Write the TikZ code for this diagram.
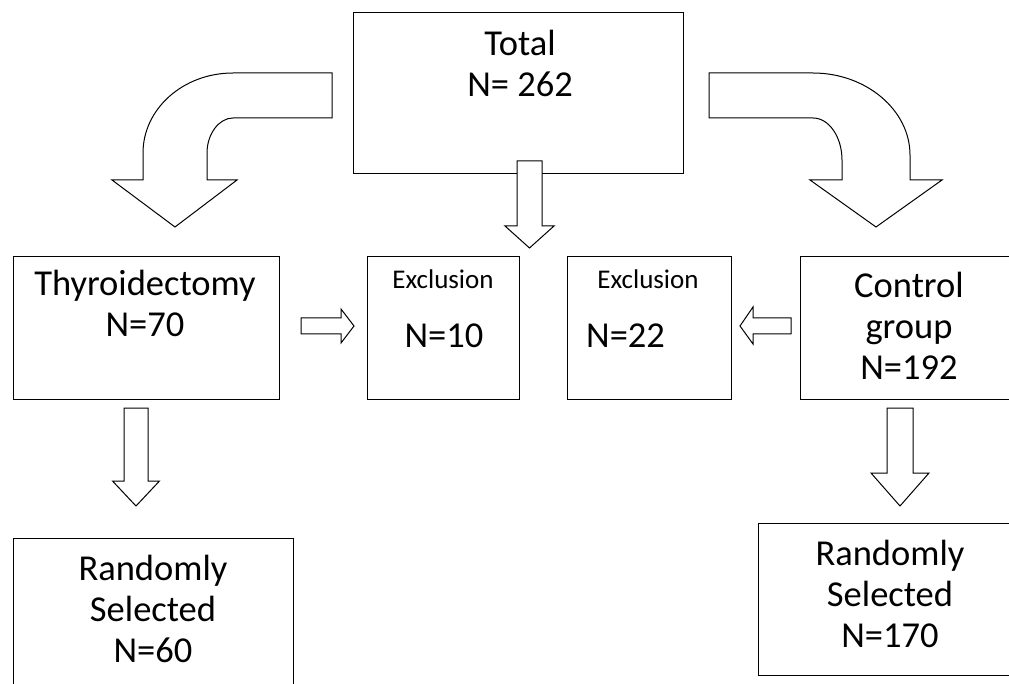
\documentclass[tikz,border=0pt]{standalone}
\usepackage{fontspec}
\setmainfont{Carlito}
\usepackage{tikz}
\usetikzlibrary{positioning}
\tikzset{
    %Define style for boxes
    kasse/.style={
           rectangle,
           draw=black, line width=1pt,
           inner sep=0pt},
    %Define style for texts
    tekst/.style={
           align=center,
           inner sep=0pt,
           font=\fontsize{36.5}{41}\selectfont},
    tekstlille/.style={
           inner sep=0pt,
           font=\fontsize{27}{30}\selectfont},
    % Define block arrow style
    blok/.style={
           draw=black, line width=1pt, fill=white,
           line join=miter}
}
% straight block arrow pointing down: x, top, shaft end, tip, half shaft, half head
\newcommand{\blokned}[6]{%
  \draw[blok] (#1-#5,#2) -- (#1+#5,#2) -- (#1+#5,#3) -- (#1+#6,#3) -- (#1,#4)
     -- (#1-#6,#3) -- (#1-#5,#3) -- cycle;}
\begin{document}
\begin{tikzpicture}[x=1pt,y=-1pt]
\useasboundingbox (0,0) rectangle (1009,684);
\clip (0,0) rectangle (1009,684);
 %boxes
\node[kasse, minimum width=330, minimum height=161](total) at (518,93.5){};
\node[kasse, minimum width=266, minimum height=142](thyr) at (146,328){};
\node[kasse, minimum width=152, minimum height=142](excl1) at (443,328){};
\node[kasse, minimum width=164, minimum height=142](excl2) at (649,328){};
\node[kasse, minimum width=230, minimum height=142](ctrl) at (915,328){};
\node[kasse, minimum width=280, minimum height=162](randL) at (153,619){};
\node[kasse, minimum width=272, minimum height=152](randR) at (894,599){};

 %texts (base = last line)
\node[tekst, anchor=base](totaltxt) at (520,97){Total\\N= 262};
\node[tekst, anchor=base](thyrtxt) at (145,337){Thyroidectomy\\N=70};
\node[tekstlille, anchor=base](excl1a) at (443,289){Exclusion};
\node[tekst, anchor=base](excl1b) at (444,348){N=10};
\node[tekstlille, anchor=base](excl2a) at (648,289){Exclusion};
\node[tekst, anchor=base west](excl2b) at (586,348){N=22};
\node[tekst, anchor=base](ctrltxt) at (909,380){Control\\group\\N=192};
\node[tekst, anchor=base](randLtxt) at (153,662){Randomly\\Selected\\N=60};
\node[tekst, anchor=base](randRtxt) at (890,647){Randomly\\Selected\\N=170};

 %curved arrows
\draw[blok] (332,73) -- (233,73) .. controls (183,73) and (143,109) .. (143,153)
    -- (143,180) -- (112,180) -- (175,227) -- (237,180) -- (207,180) -- (207,153)
    .. controls (207,134) and (219,118) .. (233,118) -- (332,118) -- cycle;
\draw[blok] (709,73) -- (813,73) .. controls (866,73) and (910,110) .. (910,155)
    -- (910,180) -- (942,180) -- (876,227) -- (810,180) -- (842,180) -- (842,160)
    .. controls (842,137) and (829,118) .. (813,118) -- (709,118) -- cycle;

 %straight arrows
\blokned{529.5}{161}{226}{248}{12.5}{24.5}
\blokned{136}{408}{481}{506}{12}{23.5}
\blokned{900}{408}{473}{506}{13}{29}
\draw[blok] (301,318) -- (341,318) -- (341,309) -- (354,326) -- (341,343)
    -- (341,334) -- (301,334) -- cycle;
\draw[blok] (791,318) -- (753,318) -- (753,307) -- (740,326) -- (753,344)
    -- (753,334) -- (791,334) -- cycle;
\end{tikzpicture}
\end{document}
